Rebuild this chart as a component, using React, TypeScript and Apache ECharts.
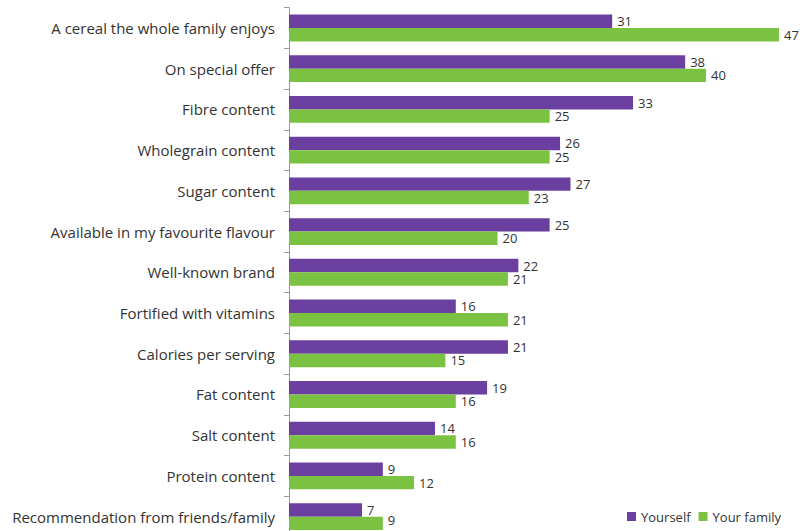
import React, { useEffect, useRef } from "react";
import * as echarts from "echarts";

const categories = [
  "A cereal the whole family enjoys",
  "On special offer",
  "Fibre content",
  "Wholegrain content",
  "Sugar content",
  "Available in my favourite flavour",
  "Well-known brand",
  "Fortified with vitamins",
  "Calories per serving",
  "Fat content",
  "Salt content",
  "Protein content",
  "Recommendation from friends/family",
];
const yourself = [31, 38, 33, 26, 27, 25, 22, 16, 21, 19, 14, 9, 7];
const yourFamily = [47, 40, 25, 25, 23, 20, 21, 21, 15, 16, 16, 12, 9];

const FONT = "'Open Sans', 'Liberation Sans', sans-serif";

export default function App() {
  const ref = useRef<HTMLDivElement>(null);
  useEffect(() => {
    if (!ref.current) return;
    document.body.style.margin = "0";
    const chart = echarts.init(ref.current, null, { renderer: "svg" });
    const labelCfg = {
      show: true,
      position: "right" as const,
      distance: 5,
      fontFamily: FONT,
      fontSize: 13,
      color: "#333",
    };
    const last = yourFamily.length - 1;
    const familyData = yourFamily.map((v, i) =>
      i === last ? { value: v, label: { offset: [0, -3] } } : v
    );
    chart.setOption({
      animation: false,
      backgroundColor: "#ffffff",
      grid: { left: 289, right: 25, top: 7.6, bottom: 3, containLabel: false },
      legend: {
        right: 18,
        bottom: 12,
        itemWidth: 9,
        itemHeight: 9,
        itemGap: 8,
        icon: "rect",
        textStyle: { fontFamily: FONT, fontSize: 13, color: "#333" },
        data: ["Yourself", "Your family"],
      },
      xAxis: {
        type: "value",
        min: 0,
        max: 47,
        show: false,
      },
      yAxis: {
        type: "category",
        data: categories,
        inverse: true,
        axisLine: { show: true, lineStyle: { color: "#999", width: 1 } },
        axisTick: { show: true, length: 5, lineStyle: { color: "#999" } },
        axisLabel: {
          fontFamily: FONT,
          fontSize: 15,
          color: "#333",
          margin: 14,
        },
      },
      series: [
        {
          name: "Yourself",
          type: "bar",
          data: yourself,
          itemStyle: { color: "#6b3fa0" },
          barGap: "0%",
          barCategoryGap: "34%",
          label: labelCfg,
        },
        {
          name: "Your family",
          type: "bar",
          data: familyData,
          itemStyle: { color: "#7cc242" },
          label: labelCfg,
        },
      ],
    });
    return () => chart.dispose();
  }, []);
  return (
    <div
      style={{
        width: 804,
        height: 531,
        position: "absolute",
        left: 0,
        top: 0,
        overflow: "hidden",
        background: "#fff",
      }}
    >
      <div ref={ref} style={{ width: 804, height: 540 }} />
    </div>
  );
}
